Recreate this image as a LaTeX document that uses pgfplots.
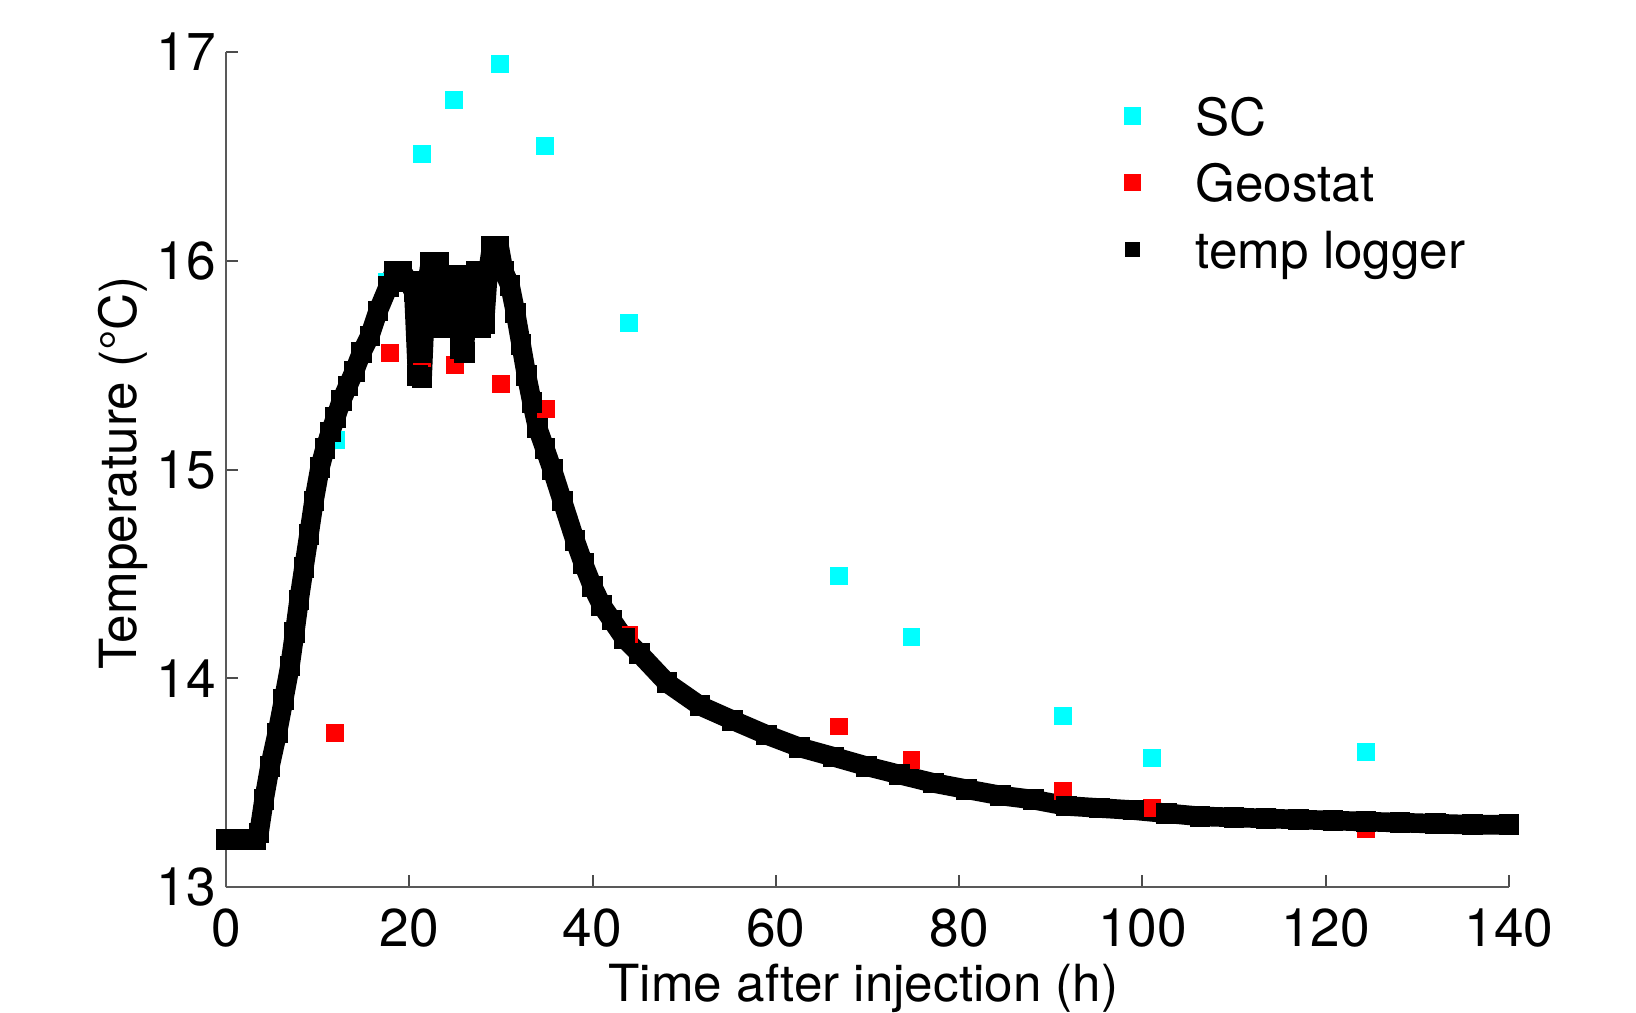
\documentclass[border=0pt]{standalone}
\usepackage{fontspec}
\setmainfont{TeX Gyre Heros}
\usepackage{pgfplots}
\pgfplotsset{compat=1.18}
\definecolor{mcyan}{rgb}{0,1,1}
\definecolor{mred}{rgb}{1,0,0}

\begin{document}
\fontsize{13.3pt}{16pt}\selectfont
\begin{tikzpicture}
\useasboundingbox (-56.5pt,-31.4pt) rectangle (352.5pt,221.85pt);
\begin{axis}[
    scale only axis,
    width=320.75pt, height=208.9pt,
    at={(0pt,0pt)}, anchor=south west,
    xmin=0, xmax=140, ymin=13, ymax=17,
    xtick={0,20,...,140}, ytick={13,14,15,16,17},
    axis x line*=bottom, axis y line*=left,
    axis line style={black!65, line width=0.5pt, -},
    tick style={black!70, line width=0.5pt},
    tick align=inside, major tick length=3pt,
    clip=false,
    /pgf/number format/assume math mode=true,
    xticklabel style={inner sep=0pt, anchor=north, yshift=-5.2pt},
    yticklabel style={inner sep=0pt, anchor=east, xshift=-2.4pt},
    xlabel={Time after injection (h)},
    ylabel={Temperature (°C)},
    label style={font=\fontsize{12.8pt}{15pt}\selectfont},
    xlabel style={at={(axis description cs:0.4969,-0.1361)}, anchor=base, inner sep=0pt},
    ylabel style={at={(axis description cs:-0.0700,0.496)}, anchor=base, inner sep=0pt},
    legend cell align=left,
    legend style={draw=none, fill=none, at={(axis description cs:0.6996,0.9461)},
        anchor=north west, inner sep=0pt, outer sep=0pt, row sep=7.1pt, column sep=13.6pt,
        font=\fontsize{12.8pt}{15pt}\selectfont,
        nodes={inner sep=0pt, text height=0.72em, text depth=0pt}},
]
% SC
\addplot[only marks, color=mcyan, mark=square*, mark size=2.1pt,
    mark options={line width=0pt, draw=none, fill=mcyan},
    legend image code/.code={\fill[mcyan, draw=none, line width=0pt] (-0.1pt,-2.2pt) rectangle (4.3pt,2.2pt);}]
coordinates {
(0,13.23) (12.0,15.14) (17.6,15.90) (21.4,16.51) (24.9,16.77) (29.9,16.94)
(34.8,16.55) (44.0,15.70) (66.9,14.49) (74.8,14.20) (91.3,13.82) (101.0,13.62)
(124.4,13.65)
};
% Geostat
\addplot[only marks, color=mred, mark=square*, mark size=2.1pt,
    mark options={line width=0pt, draw=none, fill=mred},
    legend image code/.code={\fill[mred, draw=none, line width=0pt] (-0.1pt,-2.2pt) rectangle (4.3pt,2.2pt);}]
coordinates {
(0,13.23) (11.9,13.74) (17.9,15.56) (21.4,15.47) (25.0,15.50) (30.0,15.41)
(34.9,15.29) (44.0,14.21) (66.9,13.77) (74.8,13.61) (91.3,13.46) (101.0,13.38)
(124.4,13.28)
};
% temp logger
\addplot[color=black, line width=4.9pt, line join=round, mark=square*, mark size=2.45pt,
    mark options={line width=0pt, draw=none, fill=black},
    legend image code/.code={\fill[black, draw=none, line width=0pt] (0.3pt,-1.8pt) rectangle (3.9pt,1.8pt);}]
coordinates {
(0,13.23) (0.8,13.23) (1.6,13.23) (2.4,13.23) (3.2,13.23)
(3.6,13.26) (4.15,13.42) (4.8,13.58) (5.6,13.74) (6.3,13.90) (6.98,14.06)
(7.5,14.22) (7.97,14.375) (8.5,14.53) (9.06,14.69) (9.6,14.85) (10.26,15.01)
(10.8,15.10) (11.4,15.18) (11.97,15.25) (12.6,15.33) (13.3,15.40) (14.0,15.47)
(14.8,15.56) (15.7,15.64) (16.6,15.76) (17.7,15.875)
(18.4,15.95) (19.2,15.95) (19.9,15.90) (20.5,15.85) (20.9,15.45) (21.4,15.44)
(21.8,15.85) (22.3,15.99) (22.8,15.70) (23.2,15.99) (23.6,15.68) (24.1,15.93)
(24.6,15.68) (25.1,15.93) (25.6,15.58) (26.0,15.56) (26.4,15.90) (26.9,15.70)
(27.3,15.95) (27.8,15.68) (28.2,15.70) (28.6,15.95) (29.0,16.07) (29.8,16.07)
(30.3,15.95) (31.0,15.88) (31.6,15.75) (32.2,15.60) (32.8,15.45) (33.4,15.32)
(34.0,15.20) (34.8,15.10) (35.6,15.00) (36.7,14.85) (38.1,14.66) (39.0,14.55)
(40.0,14.44) (41.0,14.35) (42.1,14.28) (43.5,14.19) (45.1,14.12) (48.1,13.98)
(51.7,13.87) (55.3,13.80) (59.0,13.73) (62.6,13.67) (66.3,13.625) (69.9,13.58)
(73.5,13.54) (77.2,13.50) (80.8,13.47) (84.5,13.44) (88.1,13.42) (91.7,13.39)
(95.3,13.38) (99.0,13.37) (102.6,13.355) (106.3,13.34) (110.0,13.335) (113.5,13.33)
(117.0,13.325) (120.8,13.32) (124.4,13.315) (128.1,13.31) (132.0,13.305) (136.0,13.30)
(140.0,13.30)
};
\legend{SC,Geostat,temp logger}
\end{axis}
\end{tikzpicture}
\end{document}
